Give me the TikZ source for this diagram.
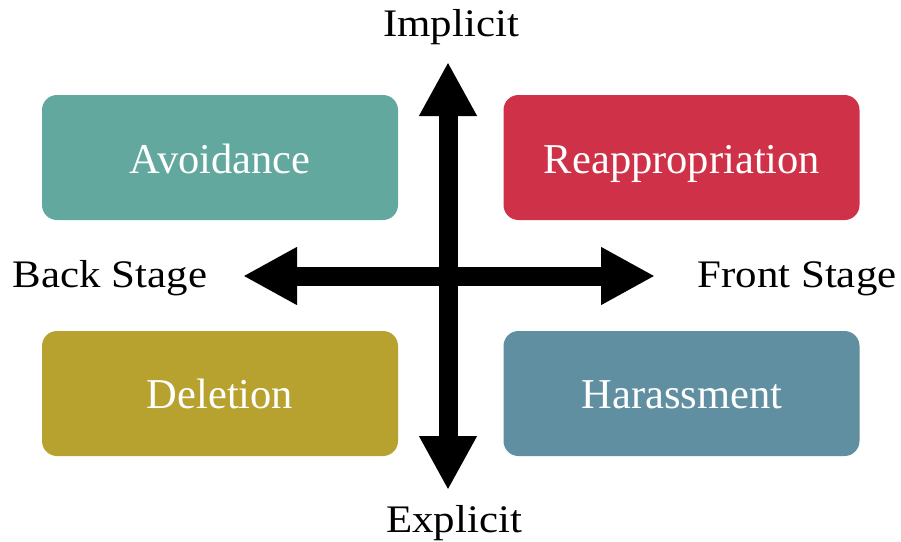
\documentclass[tikz,border=0pt]{standalone}
\usepackage{fontspec}
\setmainfont{Liberation Serif}
\usetikzlibrary{arrows.meta}
\definecolor{cavoid}{HTML}{62A89E}
\definecolor{creapp}{HTML}{CF3248}
\definecolor{cdel}{HTML}{B8A22F}
\definecolor{char}{HTML}{5F8FA0}
\newcommand{\axtext}[1]{\scalebox{1.1}[1]{#1}}
\begin{document}
\begin{tikzpicture}[x=1pt,y=1pt,
  quad/.style={rounded corners=15pt, minimum width=356pt, minimum height=125pt, inner sep=0pt},
  qlabel/.style={anchor=base, text=white, font=\fontsize{42.5}{50}\selectfont, inner sep=0pt},
  axislabel/.style={anchor=base, font=\fontsize{39}{46}\selectfont, inner sep=0pt},
  bigarrow/.style={line width=19pt, {Triangle[length=54pt,width=54pt]}-{Triangle[length=54pt,width=54pt]}}]
\useasboundingbox (0,0) rectangle (901,-541);
\node[quad, fill=cavoid] (avoid) at (220,-157.5) {};
\node[quad, fill=creapp] (reapp) at (681.5,-157.5) {};
\node[quad, fill=cdel] (del) at (220,-393.5) {};
\node[quad, fill=char] (har) at (681.5,-393.5) {};
\node[qlabel] (avoidt) at (220,-173) {Avoidance};
\node[qlabel] (reappt) at (682,-173) {Reappropriation};
\node[qlabel] (delt) at (220,-408) {Deletion};
\node[qlabel] (hart) at (682,-408) {Harassment};
\coordinate (top) at (448,-62);
\coordinate (bot) at (448,-490);
\coordinate (left) at (243,-276);
\coordinate (right) at (655,-276);
\draw[bigarrow] (bot) -- (top);
\draw[bigarrow] (left) -- (right);
\node[axislabel] (impl) at (451,-36) {\axtext{Implicit}};
\node[axislabel] (expl) at (454,-532) {\axtext{Explicit}};
\node[axislabel] (back) at (110,-287) {\axtext{Back Stage}};
\node[axislabel] (front) at (797,-287) {\axtext{Front Stage}};
\end{tikzpicture}
\end{document}
